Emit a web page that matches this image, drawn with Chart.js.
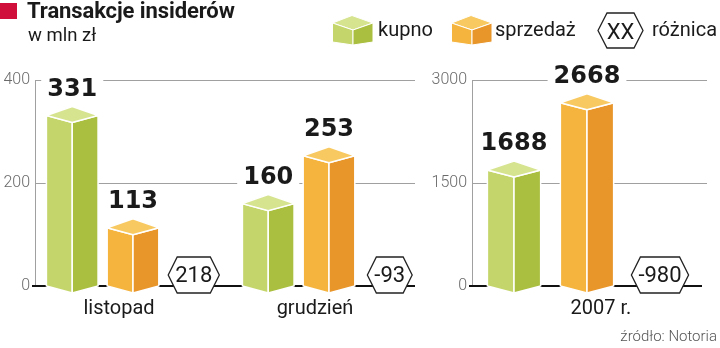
<!DOCTYPE html>
<html lang="pl">
<head>
<meta charset="utf-8">
<title>Transakcje insiderów</title>
<script src="https://cdn.jsdelivr.net/npm/chart.js@4/dist/chart.umd.min.js"></script>
<style>
  html, body { margin: 0; padding: 0; background: #fff; }
  #wrap { position: relative; width: 720px; height: 348px; overflow: hidden; font-family: Roboto, "Noto Sans", sans-serif; color: #1a1a1a; }
  canvas { position: absolute; top: 0; }
  #cvMonths { left: 0; }
  #cvYear { left: 420px; }
  .abs { position: absolute; white-space: nowrap; }
  #mark { left: 0; top: 3px; width: 17px; height: 16px; background: #d0103a; }
  #title { left: 27px; top: -1px; font-weight: 700; font-size: 22px; line-height: 24px; letter-spacing: -0.1px; }
  #unit { left: 28px; top: 24px; font-size: 18.5px; line-height: 22px; }
  .lg { font-size: 20px; line-height: 24px; top: 17px; }
  #source { right: 3px; top: 327px; font-size: 15px; line-height: 18px; color: #555; font-weight: 300; }
</style>
</head>
<body>
<div id="wrap">
  <canvas id="cvMonths" width="430" height="348"></canvas>
  <canvas id="cvYear" width="300" height="348"></canvas>

  <div id="mark" class="abs"></div>
  <div id="title" class="abs">Transakcje insiderów</div>
  <div id="unit" class="abs">w mln zł</div>

  <svg class="abs" style="left:332px;top:15px" width="42" height="31" viewBox="0 0 42 31">
    <polygon points="0.5,8 20,0.5 41,8 21,15" fill="#d6e48f" stroke="#fff" stroke-width="1"/>
    <polygon points="0.5,8 21,15 21,30 0.5,27" fill="#c4d66b" stroke="#fff" stroke-width="1"/>
    <polygon points="21,15 41,8 41,27 21,30" fill="#aabf3f" stroke="#fff" stroke-width="1"/>
  </svg>
  <div class="abs lg" style="left:378px">kupno</div>

  <svg class="abs" style="left:451px;top:15px" width="42" height="31" viewBox="0 0 42 31">
    <polygon points="0.5,8 20,0.5 41,8 21,15" fill="#f8c960" stroke="#fff" stroke-width="1"/>
    <polygon points="0.5,8 21,15 21,30 0.5,27" fill="#f4b43e" stroke="#fff" stroke-width="1"/>
    <polygon points="21,15 41,8 41,27 21,30" fill="#e8952a" stroke="#fff" stroke-width="1"/>
  </svg>
  <div class="abs lg" style="left:495px">sprzedaż</div>

  <svg class="abs" style="left:597px;top:12px" width="48" height="38" viewBox="0 0 48 38">
    <polygon points="1,18.5 10,1 37,1 46,18.5 37,36 10,36" fill="#fff" stroke="#222" stroke-width="1.3"/>
    <text x="23.5" y="26.5" text-anchor="middle" font-family="Roboto, sans-serif" font-size="22" fill="#1a1a1a">XX</text>
  </svg>
  <div class="abs lg" style="left:652px">różnica</div>

  <div id="source" class="abs">źródło: Notoria</div>
</div>

<script>
// Monthly values, mln zł
const months = ['listopad', 'grudzień'];
const buyMonths = [331, 160];
const sellMonths = [113, 253];
const diffMonths = [218, -93];

// Full-year values, mln zł
const year = ['2007 r.'];
const buyYear = [1688];
const sellYear = [2668];
const diffYear = [-980];

const monthTicks = [0, 200, 400];
const yearTicks = [0, 1500, 3000];

const GREEN = { left: '#c4d66b', right: '#aabf3f', top: '#d6e48f' };
const ORANGE = { left: '#f4b43e', right: '#e8952a', top: '#f8c960' };

// Draws axes, 3D boxes, value labels and the difference hexagons
const boxes3d = {
  id: 'boxes3d',
  beforeDatasetsDraw(chart, args, opts) {
    const { ctx, chartArea: a } = chart;
    const y = chart.scales.y;
    ctx.save();
    ctx.strokeStyle = '#a0a0a0';
    ctx.lineWidth = 1;
    y.ticks.forEach((t) => {
      if (t.value === 0) return;
      const py = Math.round(y.getPixelForValue(t.value)) + 0.5;
      ctx.beginPath();
      ctx.moveTo(a.left, py);
      ctx.lineTo(a.right + opts.gridExtend, py);
      ctx.stroke();
    });
    const top = Math.round(y.getPixelForValue(y.max));
    const by = y.getPixelForValue(0);
    ctx.beginPath();
    ctx.moveTo(Math.round(a.left) + 0.5, top);
    ctx.lineTo(Math.round(a.left) + 0.5, by);
    ctx.stroke();
    ctx.strokeStyle = '#111';
    ctx.lineWidth = 2;
    ctx.beginPath();
    ctx.moveTo(a.left - 3, by);
    ctx.lineTo(a.right + opts.baseExtend, by);
    ctx.stroke();
    ctx.restore();
  },
  afterDatasetsDraw(chart, args, opts) {
    const { ctx } = chart;
    const dip = 7, rise = 9;
    ctx.save();
    chart.data.datasets.forEach((ds, di) => {
      const meta = chart.getDatasetMeta(di);
      meta.data.forEach((el, i) => {
        const p = el.getProps(['x', 'y', 'base', 'width'], true);
        if (ds.kind === 'box') {
          const x0 = p.x - p.width / 2, x1 = p.x + p.width / 2, xc = p.x;
          const yt = p.y, yb = p.base;
          const poly = (pts, fill) => {
            ctx.beginPath();
            ctx.moveTo(pts[0][0], pts[0][1]);
            for (let k = 1; k < pts.length; k++) ctx.lineTo(pts[k][0], pts[k][1]);
            ctx.closePath();
            ctx.fillStyle = fill;
            ctx.fill();
            ctx.strokeStyle = '#fff';
            ctx.lineWidth = 1.5;
            ctx.stroke();
          };
          poly([[x0, yt], [xc, yt + dip], [xc, yb + dip], [x0, yb]], ds.faces.left);
          poly([[xc, yt + dip], [x1, yt], [x1, yb], [xc, yb + dip]], ds.faces.right);
          poly([[x0, yt], [xc, yt - rise], [x1, yt], [xc, yt + dip]], ds.faces.top);

          // value label above the box, on a white patch over the grid
          const txt = String(ds.data[i]);
          ctx.font = 'bold 24px "DejaVu Sans", sans-serif';
          const tw = ctx.measureText(txt).width;
          const ly = yt - rise - 11;
          ctx.fillStyle = '#fff';
          ctx.fillRect(xc - tw / 2 - 6, ly - 20, tw + 12, 24);
          ctx.fillStyle = '#1a1a1a';
          ctx.textAlign = 'center';
          ctx.textBaseline = 'alphabetic';
          ctx.fillText(txt, xc, ly);
        } else if (ds.kind === 'hex') {
          const txt = String(ds.data[i]);
          ctx.font = '22px Roboto, sans-serif';
          const tw = ctx.measureText(txt).width;
          const w = tw + 14, h = 36, s = 9;
          const cx = p.x, cy = p.base - 11;
          ctx.beginPath();
          ctx.moveTo(cx - w / 2, cy);
          ctx.lineTo(cx - w / 2 + s, cy - h / 2);
          ctx.lineTo(cx + w / 2 - s, cy - h / 2);
          ctx.lineTo(cx + w / 2, cy);
          ctx.lineTo(cx + w / 2 - s, cy + h / 2);
          ctx.lineTo(cx - w / 2 + s, cy + h / 2);
          ctx.closePath();
          ctx.fillStyle = '#fff';
          ctx.fill();
          ctx.strokeStyle = '#222';
          ctx.lineWidth = 1.3;
          ctx.stroke();
          ctx.fillStyle = '#1a1a1a';
          ctx.textAlign = 'center';
          ctx.textBaseline = 'middle';
          ctx.fillText(txt, cx, cy + 1);
        }
      });
    });
    ctx.restore();
  }
};

function makeChart(canvasId, labels, buy, sell, diff, ticks, cfg) {
  const hidden = { backgroundColor: 'rgba(0,0,0,0)', borderWidth: 0 };
  return new Chart(document.getElementById(canvasId), {
    type: 'bar',
    data: {
      labels,
      datasets: [
        { label: 'kupno', data: buy, kind: 'box', faces: GREEN, ...hidden },
        { label: 'sprzedaż', data: sell, kind: 'box', faces: ORANGE, ...hidden },
        { label: 'różnica', data: diff, kind: 'hex', ...hidden }
      ]
    },
    options: {
      responsive: false,
      animation: false,
      events: [],
      datasets: { bar: { categoryPercentage: cfg.catPct, barPercentage: cfg.barPct } },
      layout: { padding: { top: 80, bottom: 22, left: 0, right: cfg.padRight } },
      plugins: {
        legend: { display: false },
        tooltip: { enabled: false },
        boxes3d: { gridExtend: cfg.gridExtend, baseExtend: cfg.baseExtend }
      },
      scales: {
        x: {
          grid: { display: false, drawTicks: false },
          border: { display: false },
          ticks: {
            color: '#1a1a1a',
            font: { family: 'Roboto', size: 20 },
            padding: 11,
            labelOffset: cfg.labelOffset
          },
          afterFit(scale) { scale.height = 40; }
        },
        y: {
          min: ticks[0],
          max: ticks[ticks.length - 1],
          afterBuildTicks(scale) { scale.ticks = ticks.map((v) => ({ value: v })); },
          grid: { display: false, drawTicks: false },
          border: { display: false },
          ticks: {
            color: '#6a6a6a',
            font: { family: 'Roboto', size: 16, weight: 300 },
            padding: 5,
            callback: (v) => String(v)
          },
          afterFit(scale) { scale.width = cfg.axisWidth; }
        }
      }
    },
    plugins: [boxes3d]
  });
}

makeChart('cvMonths', months, buyMonths, sellMonths, diffMonths, monthTicks, {
  catPct: 0.93, barPct: 0.85, padRight: 3, axisWidth: 35,
  gridExtend: -12, baseExtend: -12, labelOffset: -14
});

makeChart('cvYear', year, buyYear, sellYear, diffYear, yearTicks, {
  catPct: 0.952, barPct: 0.73, padRight: 18, axisWidth: 52,
  gridExtend: 5, baseExtend: 0, labelOffset: 14
});
</script>
</body>
</html>
